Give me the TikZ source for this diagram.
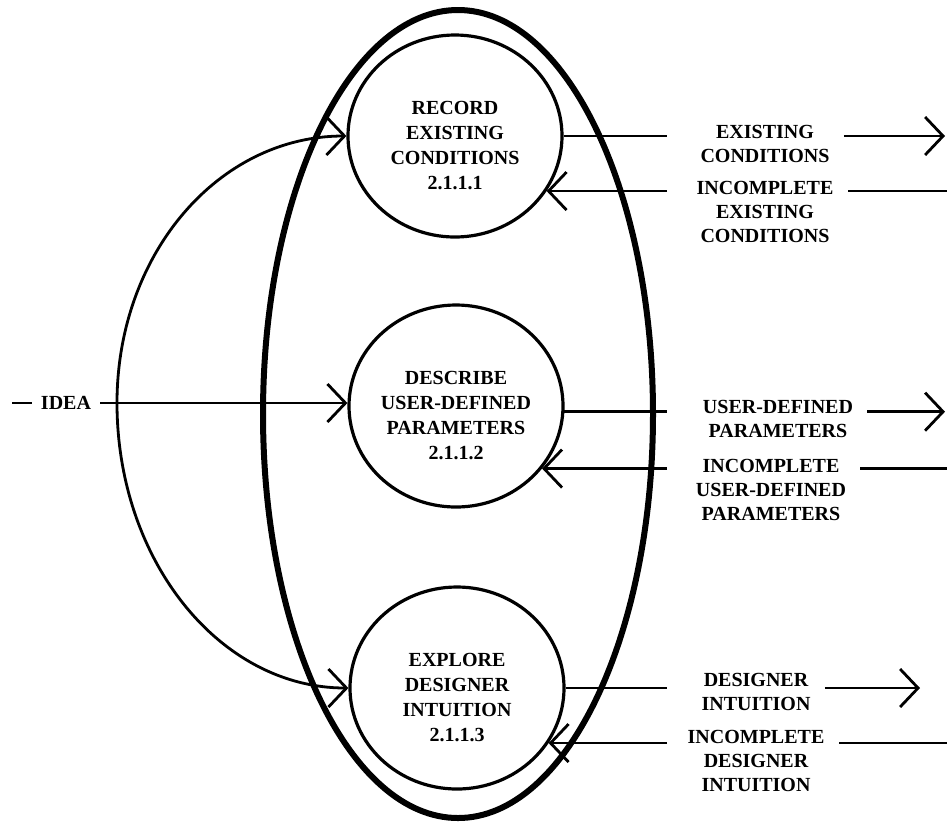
\documentclass[tikz,border=0pt]{standalone}
\usepackage{fontspec}
\setmainfont{Liberation Serif}
\usetikzlibrary{arrows.meta}
\usetikzlibrary{shapes.geometric}
\tikzstyle{every node}=[font=\bfseries\fontsize{10}{12}\selectfont]
\tikzstyle{process}=[draw,ellipse,line width=1.6pt,minimum width=107pt,minimum height=101pt,inner sep=0pt]
\tikzstyle{proctext}=[align=center,inner sep=0pt,font=\bfseries\fontsize{10}{12.5}\selectfont]
\tikzstyle{flowtext}=[align=center,inner xsep=7pt]
\tikzstyle{plain}=[line width=1.4pt]
\tikzstyle{dataflow}=[plain,-{Straight Barb[length=9pt,width=19pt]}]
\tikzstyle{outline}=[line width=3pt]

\begin{document}
\begin{tikzpicture}[x=0.5pt,y=-0.5pt]
	\useasboundingbox (0,0) rectangle (947,821);
	\draw[outline] (458,414) ellipse [x radius=97.5pt, y radius=202pt];
	% processes
	\node[process] (rec) at (455,136) {};
	\node[process] (desc) at (456,406) {};
	\node[process] (expl) at (457,688) {};
	\node[proctext] (rec-txt) at ([yshift=-5pt]rec.center) {RECORD\\EXISTING\\CONDITIONS\\2.1.1.1};
	\node[proctext] (desc-txt) at ([yshift=-5pt]desc.center) {DESCRIBE\\USER-DEFINED\\PARAMETERS\\2.1.1.2};
	\node[proctext] (expl-txt) at ([yshift=-5pt]expl.center) {EXPLORE\\DESIGNER\\INTUITION\\2.1.1.3};
	% input
	\coordinate (src) at (12,403);
	\coordinate (fork) at (117,403);
	\node[inner xsep=4.5pt] (idea) at (66,403) {IDEA};
	\draw[plain] (src) -- (idea);
	\draw[dataflow] (idea.east) -- (idea.east -| desc.west);
	\draw[dataflow] (fork) .. controls +(0,-149) and +(-128,0) .. (rec.west);
	\draw[dataflow] (fork) .. controls +(0,157) and +(-129,0) .. (expl.west);
	% outputs
	\coordinate (lcol) at (667,0);
	\coordinate (tipcol) at (945,0);
	\coordinate (dtip) at (920,0);
	\coordinate (edgecol) at (947,0);
	\node[flowtext] (exc) at (765,144) {EXISTING\\CONDITIONS};
	\node[flowtext] (iexc) at (765,212) {INCOMPLETE\\EXISTING\\CONDITIONS};
	\node[flowtext] (udp) at (778,419) {USER-DEFINED\\PARAMETERS};
	\node[flowtext] (iudp) at (771,490) {INCOMPLETE\\USER-DEFINED\\PARAMETERS};
	\node[flowtext] (din) at (756,692) {DESIGNER\\INTUITION};
	\node[flowtext] (idin) at (756,761) {INCOMPLETE\\DESIGNER\\INTUITION};
	\draw[plain] (rec.east) -- (rec.east -| lcol);
	\draw[dataflow] (exc.east |- rec.east) -- (rec.east -| tipcol);
	\draw[plain] (rec.329 -| edgecol) -- (rec.329 -| iexc.east);
	\draw[dataflow] (rec.329 -| lcol) -- (rec.329);
	\draw[plain] (desc.357) -- (desc.357 -| lcol);
	\draw[dataflow] (udp.east |- desc.357) -- (desc.357 -| tipcol);
	\draw[plain] (desc.324 -| edgecol) -- (desc.324 -| iudp.east);
	\draw[dataflow] (desc.324 -| lcol) -- (desc.324);
	\draw[plain] (expl.east) -- (expl.east -| lcol);
	\draw[dataflow] (din.east |- expl.east) -- (expl.east -| dtip);
	\draw[plain] (expl.329 -| edgecol) -- (expl.329 -| idin.east);
	\draw[dataflow] (expl.329 -| lcol) -- (expl.329);
\end{tikzpicture}
\end{document}
